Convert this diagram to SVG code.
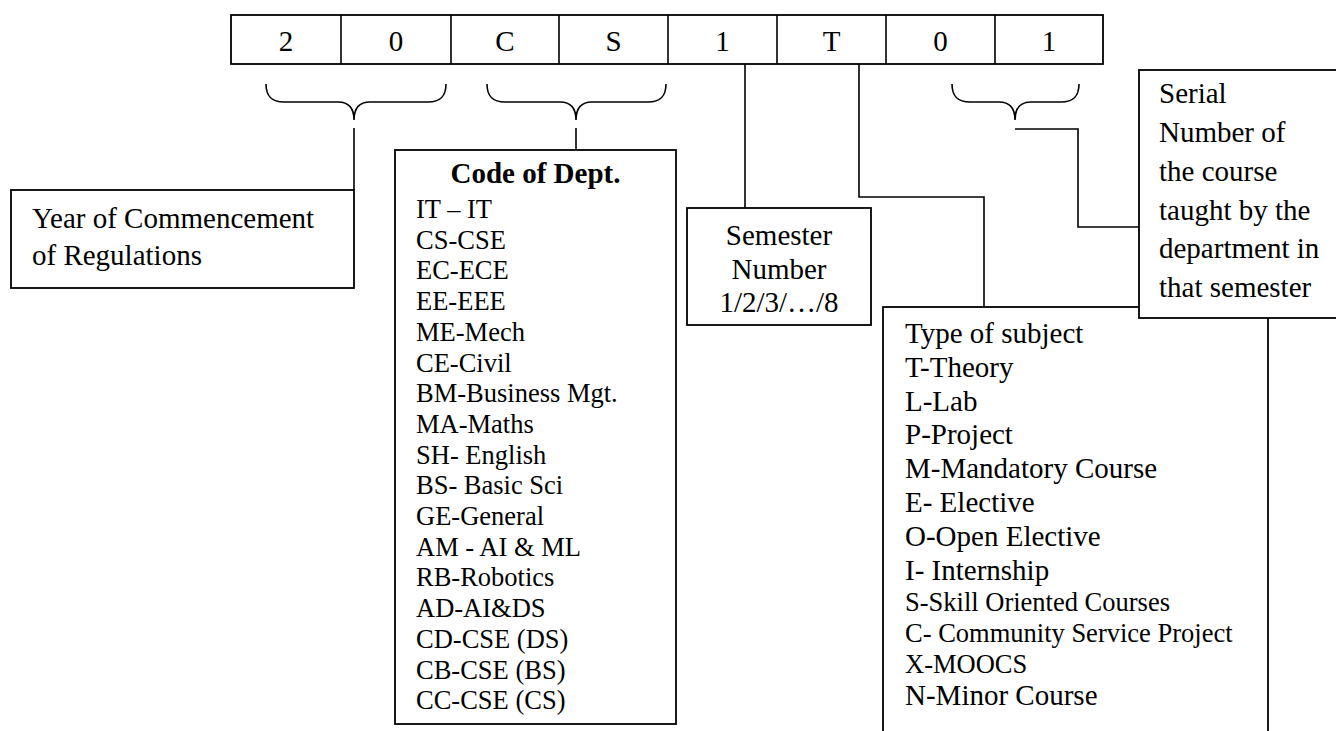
<svg xmlns="http://www.w3.org/2000/svg" width="1336" height="731" viewBox="0 0 1336 731">
<style>
.bx{fill:#fff;stroke:#000;stroke-width:1.8}
.ln{fill:none;stroke:#000;stroke-width:1.6}
.t{font-family:"Liberation Serif","Times New Roman",serif;font-size:29px;fill:#000}
.s{font-family:"Liberation Serif","Times New Roman",serif;font-size:26.5px;fill:#000}
.c{text-anchor:middle}
.b{font-weight:bold}
</style>
<rect width="1336" height="731" fill="#fff"/>
<g id="code">
<rect class="bx" x="231" y="15" width="872" height="49"/>
<path class="ln" d="M341,15V64M451,15V64M559,15V64M668,15V64M777,15V64M886,15V64M995,15V64"/>
<text class="t c" x="286" y="51">2</text>
<text class="t c" x="396" y="51">0</text>
<text class="t c" x="505" y="51">C</text>
<text class="t c" x="613.5" y="51">S</text>
<text class="t c" x="722.5" y="51">1</text>
<text class="t c" x="831.5" y="51">T</text>
<text class="t c" x="940.5" y="51">0</text>
<text class="t c" x="1049" y="51">1</text>
</g>
<g id="braces">
<path class="ln" d="M266,84C266,97 272,102 284,102L338,102C348,102 354,108 354,120C354,108 360,102 370,102L428,102C440,102 446,97 446,84"/>
<path class="ln" d="M487,84C487,97 493,102 505,102L560,102C570,102 576,108 576,120C576,108 582,102 592,102L648,102C660,102 666,97 666,84"/>
<path class="ln" d="M952,84C952,97 958,102 970,102L999,102C1009,102 1015,108 1015,120C1015,108 1021,102 1031,102L1061,102C1073,102 1079,97 1079,84"/>
</g>
<g id="connectors">
<path class="ln" d="M354,128V190"/>
<path class="ln" d="M576,128V150"/>
<path class="ln" d="M745,64V208"/>
<path class="ln" d="M859,64V197H984V307"/>
<path class="ln" d="M1015,129H1078V227H1139"/>
</g>
<g id="year">
<rect class="bx" x="11" y="190" width="343" height="98"/>
<text class="t" x="32" y="228">Year of Commencement</text>
<text class="t" x="32" y="265">of Regulations</text>
</g>
<g id="dept">
<rect class="bx" x="395" y="150" width="281" height="574"/>
<text class="t c b" x="535.5" y="183">Code of Dept.</text>
<text class="s" x="416" y="218">IT – IT</text>
<text class="s" x="416" y="248.7">CS-CSE</text>
<text class="s" x="416" y="279.4">EC-ECE</text>
<text class="s" x="416" y="310.1">EE-EEE</text>
<text class="s" x="416" y="340.8">ME-Mech</text>
<text class="s" x="416" y="371.5">CE-Civil</text>
<text class="s" x="416" y="402.2">BM-Business Mgt.</text>
<text class="s" x="416" y="432.9">MA-Maths</text>
<text class="s" x="416" y="463.6">SH- English</text>
<text class="s" x="416" y="494.3">BS- Basic Sci</text>
<text class="s" x="416" y="525">GE-General</text>
<text class="s" x="416" y="555.7">AM - AI &amp; ML</text>
<text class="s" x="416" y="586.4">RB-Robotics</text>
<text class="s" x="416" y="617.1">AD-AI&amp;DS</text>
<text class="s" x="416" y="647.8">CD-CSE (DS)</text>
<text class="s" x="416" y="678.5">CB-CSE (BS)</text>
<text class="s" x="416" y="709.2">CC-CSE (CS)</text>
</g>
<g id="semester">
<rect class="bx" x="687" y="208" width="184" height="117"/>
<text class="t c" x="779" y="245">Semester</text>
<text class="t c" x="779" y="279">Number</text>
<text class="t c" x="779" y="312">1/2/3/…/8</text>
</g>
<g id="type">
<rect class="bx" x="883" y="307" width="385" height="440"/>
<text class="t" x="905" y="343">Type of subject</text>
<text class="t" x="905" y="377">T-Theory</text>
<text class="t" x="905" y="411">L-Lab</text>
<text class="t" x="905" y="444">P-Project</text>
<text class="t" x="905" y="478">M-Mandatory Course</text>
<text class="t" x="905" y="512">E- Elective</text>
<text class="t" x="905" y="546">O-Open Elective</text>
<text class="t" x="905" y="580">I- Internship</text>
<text class="s" x="905" y="611">S-Skill Oriented Courses</text>
<text class="s" x="905" y="642">C- Community Service Project</text>
<text class="s" x="905" y="673">X-MOOCS</text>
<text class="t" x="905" y="705">N-Minor Course</text>
</g>
<g id="serial">
<rect class="bx" x="1139" y="70" width="210" height="248"/>
<text class="t" x="1159" y="103">Serial</text>
<text class="t" x="1159" y="142">Number of</text>
<text class="t" x="1159" y="181">the course</text>
<text class="t" x="1159" y="220">taught by the</text>
<text class="t" x="1159" y="258">department in</text>
<text class="t" x="1159" y="297">that semester</text>
</g>
</svg>
